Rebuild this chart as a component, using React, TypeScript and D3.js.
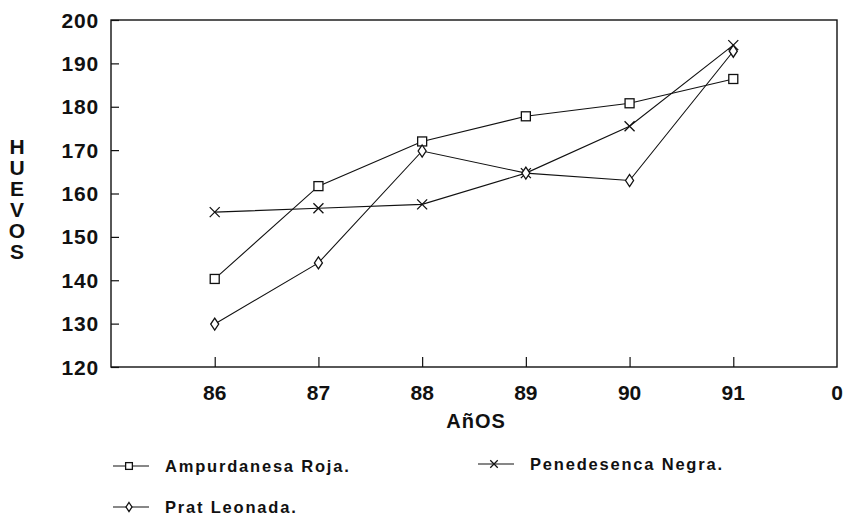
import React, { useEffect, useRef } from 'react';
import * as d3 from 'd3';

// años (the last slot is labelled "0" on the original)
const years = [86, 87, 88, 89, 90, 91];
const xTickLabels = ['86', '87', '88', '89', '90', '91', '0'];
const yTicks = [120, 130, 140, 150, 160, 170, 180, 190, 200];

const ampurdanesa = [140.3, 161.7, 172, 177.8, 180.8, 186.4];
const penedesenca = [155.7, 156.6, 157.5, 164.7, 175.5, 194.2];
const pratLeonada = [129.9, 144, 169.8, 164.7, 163, 192.8];

const series = [
  { name: 'Ampurdanesa Roja.', values: ampurdanesa, marker: 'square' },
  { name: 'Penedesenca Negra.', values: penedesenca, marker: 'cross' },
  { name: 'Prat Leonada.', values: pratLeonada, marker: 'diamond' },
];

const FONT = "'Liberation Sans', Arial, sans-serif";

const drawMarker = (g: any, type: string, cx: number, cy: number, s = 1) => {
  if (type === 'square') {
    g.append('rect')
      .attr('x', cx - 4.5 * s).attr('y', cy - 4.5 * s)
      .attr('width', 9 * s).attr('height', 9 * s)
      .attr('fill', 'white').attr('stroke', '#111').attr('stroke-width', 1.3);
  } else if (type === 'diamond') {
    g.append('path')
      .attr('d', `M${cx},${cy - 6 * s}L${cx + 4 * s},${cy}L${cx},${cy + 6 * s}L${cx - 4 * s},${cy}Z`)
      .attr('fill', 'white').attr('stroke', '#111').attr('stroke-width', 1.3);
  } else {
    const r = 5 * s;
    g.append('path')
      .attr('d', `M${cx - r},${cy - r}L${cx + r},${cy + r}M${cx - r},${cy + r}L${cx + r},${cy - r}`)
      .attr('stroke', '#111').attr('stroke-width', 1.3);
  }
};

const App = () => {
  const ref = useRef<SVGSVGElement>(null);

  useEffect(() => {
    const svg = d3.select(ref.current);
    svg.selectAll('*').remove();

    const width = 847;
    const height = 517;
    const margin = { top: 20, right: 10, bottom: 150, left: 111 };

    const x = d3.scaleLinear()
      .domain([85, 92])
      .range([margin.left, width - margin.right]);

    const y = d3.scaleLinear()
      .domain([120, 200])
      .range([height - margin.bottom, margin.top]);

    svg.append('rect')
      .attr('width', width).attr('height', height).attr('fill', 'white');

    // plot frame
    svg.append('rect')
      .attr('x', x(85)).attr('y', y(200))
      .attr('width', x(92) - x(85)).attr('height', y(120) - y(200))
      .attr('fill', 'none').attr('stroke', '#111').attr('stroke-width', 1.4);

    // y axis, ticks inward
    const yAxis = svg.append('g')
      .attr('transform', `translate(${x(85)},0)`)
      .call(d3.axisRight(y).tickValues(yTicks).tickSize(8).tickFormat(() => ''));
    yAxis.select('.domain').remove();
    yAxis.selectAll('line').attr('stroke', '#111').attr('stroke-width', 1.2);

    svg.append('g')
      .selectAll('text')
      .data(yTicks)
      .enter().append('text')
      .attr('x', 99)
      .attr('y', d => y(d))
      .attr('dy', '0.36em')
      .attr('text-anchor', 'end')
      .attr('font-family', FONT)
      .attr('font-weight', 'bold')
      .attr('font-size', 21)
      .attr('letter-spacing', 0.8)
      .attr('fill', '#111')
      .text(d => d);

    // x axis, ticks upward
    const xAxis = svg.append('g')
      .attr('transform', `translate(0,${y(120)})`)
      .call(d3.axisTop(x).tickValues(years).tickSize(10).tickFormat(() => ''));
    xAxis.select('.domain').remove();
    xAxis.selectAll('line').attr('stroke', '#111').attr('stroke-width', 1.2);

    svg.append('g')
      .selectAll('text')
      .data(xTickLabels)
      .enter().append('text')
      .attr('x', (d, i) => x(86 + i))
      .attr('y', 392)
      .attr('dy', '0.36em')
      .attr('text-anchor', 'middle')
      .attr('font-family', FONT)
      .attr('font-weight', 'bold')
      .attr('font-size', 21)
      .attr('fill', '#111')
      .text(d => d);

    svg.append('text')
      .attr('x', 476).attr('y', 421)
      .attr('dy', '0.36em')
      .attr('text-anchor', 'middle')
      .attr('font-family', FONT)
      .attr('font-weight', 'bold')
      .attr('font-size', 20)
      .attr('letter-spacing', 1)
      .attr('fill', '#111')
      .text('AñOS');

    // vertical stacked y title
    svg.append('g')
      .selectAll('text')
      .data('HUEVOS'.split(''))
      .enter().append('text')
      .attr('x', 17)
      .attr('y', (d, i) => 146 + i * 21)
      .attr('dy', '0.36em')
      .attr('text-anchor', 'middle')
      .attr('font-family', FONT)
      .attr('font-weight', 'bold')
      .attr('font-size', 21)
      .attr('fill', '#111')
      .text(d => d);

    const line = d3.line<number>()
      .x((d, i) => x(years[i]))
      .y(d => y(d));

    series.forEach(s => {
      svg.append('path')
        .datum(s.values)
        .attr('d', line)
        .attr('fill', 'none')
        .attr('stroke', '#111')
        .attr('stroke-width', 1.1);
    });

    series.forEach(s => {
      const g = svg.append('g');
      s.values.forEach((v, i) => drawMarker(g, s.marker, x(years[i]), y(v)));
    });

    // legend
    const legendPos = [
      { lx: 113, ly: 466 },
      { lx: 478, ly: 464 },
      { lx: 113, ly: 507 },
    ];
    series.forEach((s, i) => {
      const { lx, ly } = legendPos[i];
      const g = svg.append('g');
      g.append('line')
        .attr('x1', lx).attr('x2', lx + 36)
        .attr('y1', ly).attr('y2', ly)
        .attr('stroke', '#111').attr('stroke-width', 1.2);
      drawMarker(g, s.marker, lx + 16, ly, 0.75);
      g.append('text')
        .attr('x', lx + 52).attr('y', ly)
        .attr('dy', '0.36em')
        .attr('font-family', FONT)
        .attr('font-weight', 'bold')
        .attr('font-size', 16.5)
        .attr('letter-spacing', 1.8)
        .attr('fill', '#111')
        .text(s.name);
    });
  }, []);

  return (
    <svg
      ref={ref}
      width={847}
      height={517}
      style={{ position: 'absolute', left: 0, top: 0 }}
    />
  );
};

export default App;
